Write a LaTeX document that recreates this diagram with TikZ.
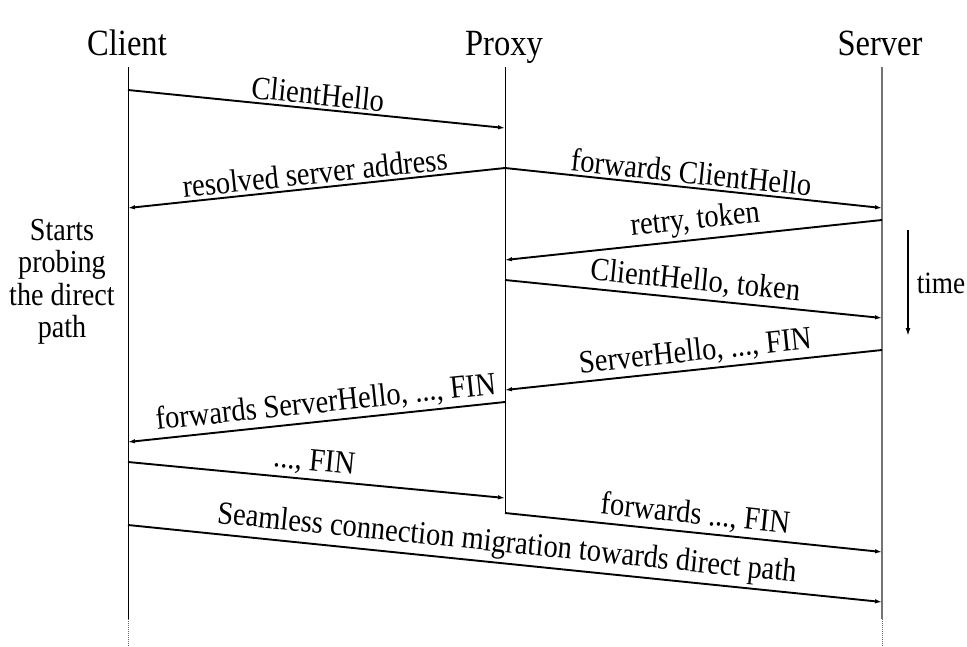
\documentclass[tikz,border=0pt]{standalone}
\usepackage{fontspec}
\setmainfont{Liberation Serif}[FakeStretch=0.88]
\usetikzlibrary{arrows.meta}
\begin{document}
\begin{tikzpicture}[x=1pt,y=-1pt,
  hdr/.style={font=\fontsize{37}{44}\selectfont, inner sep=0pt, anchor=base},
  lbl/.style={font=\fontsize{32.4}{38}\selectfont, sloped, above, inner sep=3pt},
  msg/.style={line width=1.9pt, -{Latex[length=7pt,width=4.5pt]}},
  life/.style={line width=1pt},
  srvlife/.style={line width=1.5pt, draw=black!55},
  dots/.style={line width=0.6pt, draw=black!60, dash pattern=on 1pt off 1pt},
  note/.style={font=\fontsize{32}{32.5}\selectfont, align=center, inner sep=0pt},
  ]
\useasboundingbox (0,0) rectangle (967,646);
% headers
\node[hdr] (client) at (127,55) {Client};
\node[hdr] (proxy)  at (504,55) {Proxy};
\node[hdr] (server) at (880,55) {Server};
% lifelines
\coordinate (ctop) at (128,67);  \coordinate (cbot) at (128,619); \coordinate (cend) at (128,646);
\coordinate (ptop) at (505,67);  \coordinate (pbot) at (505,513);
\coordinate (stop) at (882,67);  \coordinate (sbot) at (882,619); \coordinate (send) at (882,646);
\draw[life] (ctop) -- (cbot);
\draw[dots] (cbot) -- (cend);
\draw[life] (ptop) -- (pbot);
\draw[srvlife] (stop) -- (sbot);
\draw[dots] (sbot) -- (send);
% message end points
\coordinate (c1) at (128,90);   \coordinate (p1) at (505,128);
\coordinate (p2) at (505,168);  \coordinate (c2) at (128,208);
\coordinate (s3) at (882,208);
\coordinate (s4) at (882,220);  \coordinate (p4) at (505,260);
\coordinate (p5) at (505,280);  \coordinate (s5) at (882,318);
\coordinate (s6) at (882,350);  \coordinate (p6) at (505,390);
\coordinate (p7) at (505,402);  \coordinate (c7) at (128,442);
\coordinate (c8) at (128,462);  \coordinate (p8) at (505,498);
\coordinate (s9) at (882,552);
\coordinate (c10) at (128,525); \coordinate (s10) at (882,602);
% messages
\draw[msg] (c1) -- node[lbl, pos=0.5] {ClientHello} (p1);
\draw[msg] (p2) -- node[lbl, pos=0.5] {resolved server address} (c2);
\draw[msg] (p2) -- node[lbl, pos=0.49] {forwards ClientHello} (s3);
\draw[msg] (s4) -- node[lbl, pos=0.49] {retry, token} (p4);
\draw[msg] (p5) -- node[lbl, pos=0.5] {ClientHello, token} (s5);
\draw[msg] (s6) -- node[lbl, pos=0.49] {ServerHello, ..., FIN} (p6);
\draw[msg] (p7) -- node[lbl, pos=0.47] {forwards ServerHello, ..., FIN} (c7);
\draw[msg] (c8) -- node[lbl, pos=0.49] {..., FIN} (p8);
\draw[msg] (pbot) -- node[lbl, pos=0.5] {forwards ..., FIN} (s9);
\draw[msg] (c10) -- node[lbl, pos=0.5] {Seamless connection migration towards direct path} (s10);
% time arrow
\coordinate (t1) at (908,230); \coordinate (t2) at (908,336);
\draw[line width=1.9pt, -{Latex[length=8pt,width=5pt]}] (t1) -- (t2);
\node[font=\fontsize{31}{36}\selectfont, inner sep=0pt] (time) at (941,283) {time};
% note
\node[note] (probe) at (62,282) {Starts\\probing\\the direct\\path};
\end{tikzpicture}
\end{document}
